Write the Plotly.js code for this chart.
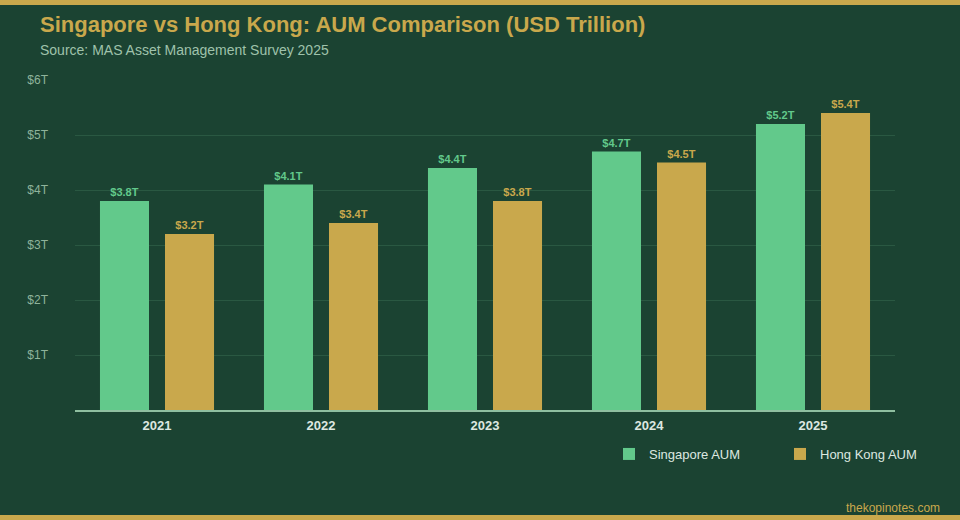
<!DOCTYPE html>
<html>
<head>
<meta charset="utf-8">
<script src="https://cdn.plot.ly/plotly-3.0.1.min.js"></script>
<style>
  html, body { margin: 0; padding: 0; }
  body {
    width: 960px; height: 520px; box-sizing: border-box;
    background: #1b4332;
    border-top: 5px solid #c9a84c;
    border-bottom: 5px solid #c9a84c;
  }
  #chart { width: 960px; height: 510px; }
</style>
</head>
<body>
<div id="chart"></div>
<script>
// AUM data (USD trillion)
var years = ['2021', '2022', '2023', '2024', '2025']
var singapore = [3.8, 4.1, 4.4, 4.7, 5.2]
var hongkong = [3.2, 3.4, 3.8, 4.5, 5.4]
var yTicks = [1, 2, 3, 4, 5, 6]
var yLabels = ['$1T', '$2T', '$3T', '$4T', '$5T', '$6T']

var green = '#62c98b'
var gold = '#c9a84c'
var font = 'Liberation Sans, Arial, Helvetica, sans-serif'

var sgBars = {
    type: 'bar',
    name: 'Singapore AUM',
    x: years,
    y: singapore,
    marker: { color: green },
    texttemplate: '$%{y:.1f}T',
    textposition: 'outside',
    outsidetextfont: { color: green, size: 11, weight: 'bold', family: font },
    cliponaxis: false,
    hoverinfo: 'skip'
}

var hkBars = {
    type: 'bar',
    name: 'Hong Kong AUM',
    x: years,
    y: hongkong,
    marker: { color: gold },
    texttemplate: '$%{y:.1f}T',
    textposition: 'outside',
    outsidetextfont: { color: gold, size: 11, weight: 'bold', family: font },
    cliponaxis: false,
    hoverinfo: 'skip'
}

var layout = {
    width: 960,
    height: 510,
    paper_bgcolor: '#1b4332',
    plot_bgcolor: '#1b4332',
    font: { family: font, color: '#dde8e0' },
    margin: { l: 75, r: 65, t: 75, b: 105, autoexpand: false },
    barmode: 'group',
    bargap: 0.207,
    bargroupgap: 0.246,
    title: {
        text: 'Singapore vs Hong Kong: AUM Comparison (USD Trillion)',
        font: { size: 22, color: gold, weight: 'bold', family: font },
        x: 40 / 960, xanchor: 'left', xref: 'container',
        y: 1 - 19 / 510, yanchor: 'middle', yref: 'container'
    },
    xaxis: {
        type: 'category',
        showgrid: false,
        showline: true,
        linecolor: '#8fbfa0',
        linewidth: 2,
        ticks: '',
        ticklabelstandoff: 2,
        tickfont: { size: 13, weight: 'bold', color: '#dde8e0' }
    },
    yaxis: {
        range: [0, 6],
        tickvals: yTicks,
        ticktext: yLabels,
        showgrid: true,
        gridcolor: '#2a5842',
        gridwidth: 1,
        zeroline: false,
        showline: false,
        ticks: '',
        ticklabelstandoff: 26,
        tickfont: { size: 12, color: '#8fb39b' }
    },
    showlegend: true,
    legend: {
        orientation: 'h',
        x: (609 - 75) / 820, xanchor: 'left',
        y: -(449 - 405) / 330, yanchor: 'middle',
        entrywidth: 126,
        font: { size: 13, color: '#dde8e0' },
        bgcolor: 'rgba(0,0,0,0)'
    },
    annotations: [
        {
            text: 'Source: MAS Asset Management Survey 2025',
            xref: 'paper', yref: 'paper',
            x: (38 - 75) / 820, xanchor: 'left',
            y: 1 + (405 - 45 - 330) / 330, yanchor: 'middle',
            showarrow: false,
            font: { size: 14, color: '#9fc2ab' }
        },
        {
            text: 'thekopinotes.com',
            xref: 'paper', yref: 'paper',
            x: (942 - 75) / 820, xanchor: 'right',
            y: -(503 - 405) / 330, yanchor: 'middle',
            showarrow: false,
            font: { size: 12, color: gold }
        }
    ]
}

Plotly.newPlot('chart', [sgBars, hkBars], layout, { displayModeBar: false, staticPlot: true })
</script>
</body>
</html>
